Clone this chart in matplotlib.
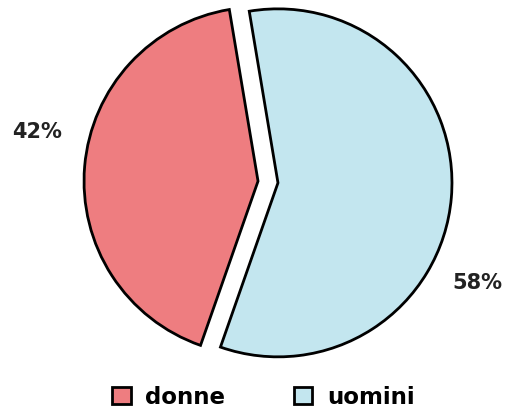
import matplotlib
matplotlib.use("Agg")
import matplotlib.pyplot as plt

labels = ["donne", "uomini"]
shares = [42, 58]
colors = ["#ee7d80", "#c3e6ef"]
pct_text = ["42%", "58%"]

plt.rcParams['font.family'] = ['DejaVu Sans']

fig = plt.figure(figsize=(5.05, 4.14), dpi=100)
ax = fig.add_axes([0, 0, 1, 1])

wedges, _ = ax.pie(shares, labels=None, colors=colors, startangle=99.5,
                   counterclock=True, explode=[0.0575, 0.0575],
                   wedgeprops=dict(edgecolor='black', linewidth=2.0))

# pie center at pixel (268, 183), radius ~174 px
ax.set_aspect('auto')
ax.set_xlim(-268 / 174, 237 / 174)
ax.set_ylim(-231 / 174, 183 / 174)
ax.axis('off')

ax.text(-1.328, 0.293, pct_text[0], ha='center', va='center',
        fontsize=15, fontweight='bold', color='#222222')
ax.text(1.201, -0.575, pct_text[1], ha='center', va='center',
        fontsize=15, fontweight='bold', color='#222222')

fig.legend(wedges, labels, loc='center', bbox_to_anchor=(0.522, 0.039),
           ncol=2, frameon=False, handlelength=0.79,
           handleheight=0.79, columnspacing=3.0, handletextpad=0.65,
           prop=dict(weight='bold', size=16.5))

fig.savefig("out.png", dpi=100, facecolor='white')
